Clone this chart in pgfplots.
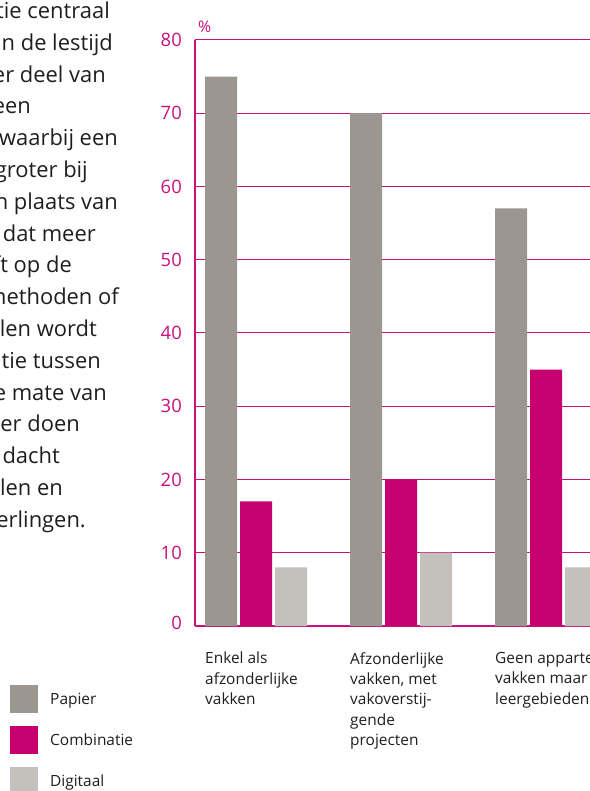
\documentclass[border=0pt]{standalone}
\usepackage{pgfplots}
\pgfplotsset{compat=1.18}
\usepackage{fontspec}
\setmainfont{Open Sans}
\definecolor{papier}{HTML}{9B9790}
\definecolor{combi}{HTML}{C6006E}
\definecolor{digi}{HTML}{C4C1BC}
\definecolor{mag}{HTML}{C8107C}
\definecolor{bodytxt}{HTML}{1E1E1E}

\begin{document}
\begin{tikzpicture}
\useasboundingbox (0,0) rectangle (590bp,791bp);
\clip (0,0) rectangle (590bp,791bp);

% body text on the left, cut off by the page edge
\begin{scope}[every node/.style={anchor=base east, inner sep=0pt, text=bodytxt,
    font=\fontsize{22}{26}\selectfont}]
\node at (110bp,{791bp-19bp}) {tie centraal};
\node at (113bp,{791bp-51bp}) {n de lestijd};
\node at (106bp,{791bp-83bp}) {er deel van};
\node at (31bp,{791bp-114bp}) {een};
\node at (118bp,{791bp-146bp}) {waarbij een};
\node at (88bp,{791bp-178bp}) {groter bij};
\node at (118bp,{791bp-210bp}) {n plaats van};
\node at (96bp,{791bp-242bp}) {dat meer};
\node at (72bp,{791bp-273bp}) {ft op de};
\node at (119bp,{791bp-305bp}) {methoden of};
\node at (97bp,{791bp-337bp}) {len wordt};
\node at (101bp,{791bp-369bp}) {tie tussen};
\node at (107bp,{791bp-401bp}) {e mate van};
\node at (80bp,{791bp-432bp}) {eer doen};
\node at (60bp,{791bp-464bp}) {dacht};
\node at (63bp,{791bp-496bp}) {len en};
\node at (86bp,{791bp-528bp}) {erlingen.};
\end{scope}

\begin{axis}[
    at={(195bp,165bp)}, anchor=south west,
    scale only axis,
    width=423.5bp, height=586bp,
    xmin=-0.4207, xmax=2.5,
    ymin=0, ymax=80,
    ytick={0,10,...,80},
    xtick={0,1,2},
    xticklabels={{Enkel als\\afzonderlijke\\vakken},
                 {Afzonderlijke\\vakken, met\\vakoverstij-\\gende\\projecten},
                 {Geen apparte\\vakken maar\\leergebieden}},
    axis x line*=bottom, axis y line*=left,
    axis line style={mag, line width=1.6bp, -},
    x axis line style={line width=2.2bp},
    major tick length=0pt,
    ymajorgrids,
    grid style={mag, line width=1bp},
    /pgf/number format/assume math mode=true,
    yticklabel style={text=mag, font=\fontsize{18.5}{20}\selectfont,
        anchor=east, inner sep=0pt, xshift=-13bp},
    yticklabel={\ifdim\tick pt<1pt\raisebox{6bp}{0}\else\raisebox{-7bp}{\pgfmathprintnumber{\tick}}\fi},
    xticklabel style={text=bodytxt, font=\fontsize{15.5}{20.5}\selectfont,
        anchor=north west, align=left, inner sep=0pt, xshift=-51bp, yshift=-26bp},
    ybar, bar width=32bp,
    legend style={at={(-0.4368,-0.1007)}, anchor=north west,
        draw=none, fill=none, inner sep=0pt, row sep=13bp,
        font=\fontsize{15.5}{18}\selectfont, text=bodytxt,
        /tikz/every odd column/.append style={column sep=10bp}},
    legend cell align=left,
    legend image code/.code={\fill[#1] (0bp,-14bp) rectangle (28bp,14bp);},
    clip=false,
]
\addplot[fill=papier, draw=none, bar shift=-35bp] coordinates {(0,75) (1,70) (2,57)};
\addlegendentry{Papier}
\addplot[fill=combi, draw=none, bar shift=0bp] coordinates {(0,17) (1,20) (2,35)};
\addlegendentry{Combinatie}
\addplot[fill=digi, draw=none, bar shift=35bp] coordinates {(0,8) (1,10) (2,8)};
\addlegendentry{Digitaal}
\node[anchor=south west, text=mag, inner sep=0pt, font=\fontsize{16}{18}\selectfont]
    at (rel axis cs:0,1) [xshift=3bp, yshift=7bp] {\%};
\end{axis}
\end{tikzpicture}
\end{document}
